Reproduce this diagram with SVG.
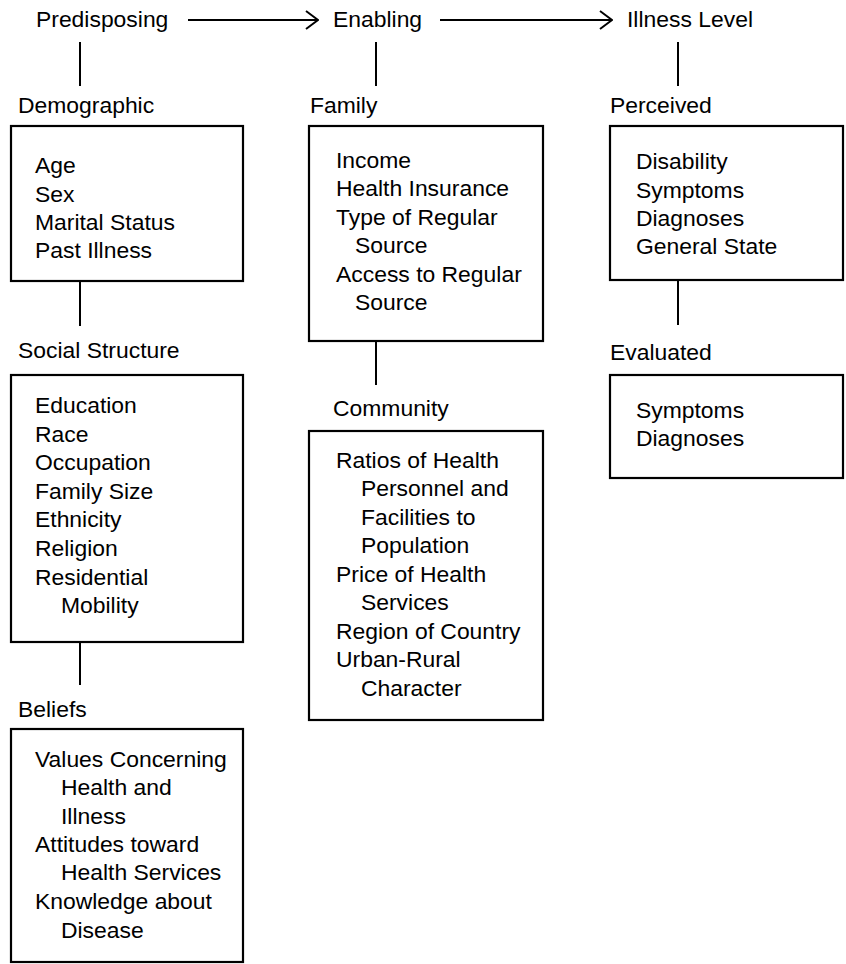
<svg xmlns="http://www.w3.org/2000/svg" width="846" height="964" viewBox="0 0 846 964">
<defs>
<style>
text{font-family:"Liberation Sans",Arial,Helvetica,sans-serif;font-size:22.9px;fill:#000}
.box{fill:#fff;stroke:#000;stroke-width:2.2}
.ln{stroke:#000;stroke-width:2;fill:none}
</style>
<marker id="chev" viewBox="0 0 14 20" refX="13" refY="10" markerWidth="14" markerHeight="20" markerUnits="userSpaceOnUse" orient="auto">
<path d="M1,1 L13,10 L1,19" fill="none" stroke="#000" stroke-width="2"/>
</marker>
</defs>
<rect width="846" height="964" fill="#fff"/>
<g id="connectors">
<line class="ln" x1="188" y1="20" x2="318" y2="20" marker-end="url(#chev)"/>
<line class="ln" x1="440" y1="20" x2="612" y2="20" marker-end="url(#chev)"/>
<line class="ln" x1="80" y1="42" x2="80" y2="86"/>
<line class="ln" x1="376" y1="42" x2="376" y2="86"/>
<line class="ln" x1="678" y1="42" x2="678" y2="86"/>
<line class="ln" x1="80" y1="282" x2="80" y2="326"/>
<line class="ln" x1="80" y1="642" x2="80" y2="685"/>
<line class="ln" x1="376" y1="341" x2="376" y2="385"/>
<line class="ln" x1="678" y1="281" x2="678" y2="325"/>
</g>
<g id="predisposing"><text x="36" y="27">Predisposing</text></g>
<g id="enabling"><text x="333" y="27">Enabling</text></g>
<g id="illness-level"><text x="627" y="27">Illness Level</text></g>

<g id="demographic">
<text x="18" y="113">Demographic</text>
<rect class="box" x="11" y="126" width="232" height="155"/>
<text x="35" y="173">Age</text>
<text x="35" y="202">Sex</text>
<text x="35" y="230">Marital Status</text>
<text x="35" y="258">Past Illness</text>
</g>

<g id="social-structure">
<text x="18" y="358">Social Structure</text>
<rect class="box" x="11" y="375" width="232" height="267"/>
<text x="35" y="413">Education</text>
<text x="35" y="442">Race</text>
<text x="35" y="470">Occupation</text>
<text x="35" y="499">Family Size</text>
<text x="35" y="527">Ethnicity</text>
<text x="35" y="556">Religion</text>
<text x="35" y="585">Residential</text>
<text x="61" y="613">Mobility</text>
</g>

<g id="beliefs">
<text x="18" y="717">Beliefs</text>
<rect class="box" x="11" y="729" width="232" height="233"/>
<text x="35" y="767">Values Concerning</text>
<text x="61" y="795">Health and</text>
<text x="61" y="824">Illness</text>
<text x="35" y="852">Attitudes toward</text>
<text x="61" y="880">Health Services</text>
<text x="35" y="909">Knowledge about</text>
<text x="61" y="938">Disease</text>
</g>

<g id="family">
<text x="310" y="113">Family</text>
<rect class="box" x="309" y="126" width="234" height="215"/>
<text x="336" y="168">Income</text>
<text x="336" y="196">Health Insurance</text>
<text x="336" y="225">Type of Regular</text>
<text x="355" y="253">Source</text>
<text x="336" y="282">Access to Regular</text>
<text x="355" y="310">Source</text>
</g>

<g id="community">
<text x="333" y="416">Community</text>
<rect class="box" x="309" y="431" width="234" height="289"/>
<text x="336" y="468">Ratios of Health</text>
<text x="361" y="496">Personnel and</text>
<text x="361" y="525">Facilities to</text>
<text x="361" y="553">Population</text>
<text x="336" y="582">Price of Health</text>
<text x="361" y="610">Services</text>
<text x="336" y="639">Region of Country</text>
<text x="336" y="667">Urban-Rural</text>
<text x="361" y="696">Character</text>
</g>

<g id="perceived">
<text x="610" y="113">Perceived</text>
<rect class="box" x="610" y="126" width="233" height="154"/>
<text x="636" y="169">Disability</text>
<text x="636" y="198">Symptoms</text>
<text x="636" y="226">Diagnoses</text>
<text x="636" y="254">General State</text>
</g>

<g id="evaluated">
<text x="610" y="360">Evaluated</text>
<rect class="box" x="610" y="375" width="233" height="103"/>
<text x="636" y="418">Symptoms</text>
<text x="636" y="446">Diagnoses</text>
</g>
</svg>
